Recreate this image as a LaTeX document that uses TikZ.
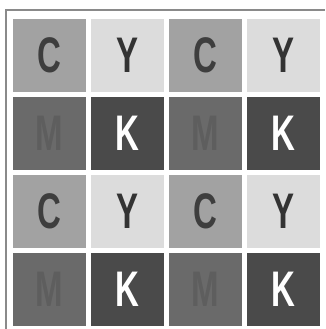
\documentclass[tikz,border=0pt]{standalone}
\usepackage{fontspec}
\setmainfont{Liberation Sans}
\definecolor{cfill}{HTML}{A2A2A2}
\definecolor{yfill}{HTML}{DCDCDC}
\definecolor{mfill}{HTML}{6A6A6A}
\definecolor{kfill}{HTML}{4A4A4A}
\definecolor{ctext}{HTML}{3E3E3E}
\definecolor{ytext}{HTML}{333333}
\definecolor{mtext}{HTML}{5E5E5E}
\definecolor{frame}{HTML}{8A8A8A}
\begin{document}
\begin{tikzpicture}[x=1pt,y=-1pt,
  cell/.style={minimum size=73pt,inner sep=0pt,outer sep=0pt,font=\bfseries\fontsize{50}{50}\selectfont},
  ccell/.style={cell,fill=cfill,text=ctext},
  ycell/.style={cell,fill=yfill,text=ytext},
  mcell/.style={cell,fill=mfill,text=mtext},
  kcell/.style={cell,fill=kfill,text=white}]
\useasboundingbox (0,0) rectangle (325,329);
\fill[white] (0,0) rectangle (325,329);
\draw[frame,line width=1.2pt] (6,329) -- (6,10) -- (325,10);
\newcommand{\ltr}[1]{\scalebox{0.66}[1]{#1}}
\foreach \r/\y in {0/55.5,2/211.5}{
  \node[ccell] (c\r a) at (49.5,\y) {\ltr{C}};
  \node[ycell] (y\r a) at (127.5,\y) {\ltr{Y}};
  \node[ccell] (c\r b) at (205.5,\y) {\ltr{C}};
  \node[ycell] (y\r b) at (283.5,\y) {\ltr{Y}};
}
\foreach \r/\y in {1/133.5,3/289.5}{
  \node[mcell] (m\r a) at (49.5,\y) {\ltr{M}};
  \node[kcell] (k\r a) at (127.5,\y) {\ltr{K}};
  \node[mcell] (m\r b) at (205.5,\y) {\ltr{M}};
  \node[kcell] (k\r b) at (283.5,\y) {\ltr{K}};
}
\end{tikzpicture}
\end{document}
